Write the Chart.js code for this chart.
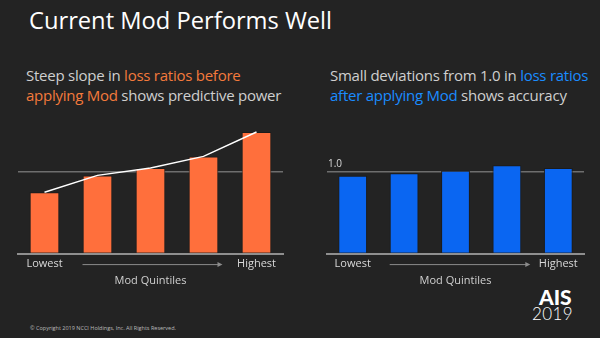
<!DOCTYPE html>
<html>
<head>
<meta charset="utf-8">
<script src="https://cdn.jsdelivr.net/npm/chart.js@4"></script>
<style>
  html, body { margin: 0; padding: 0; }
  body { width: 600px; height: 338px; background: #232323; overflow: hidden; position: relative; font-family: "Open Sans", sans-serif; }
  .txt { position: absolute; white-space: nowrap; color: #cfcfcf; }
  #title { left: 29px; top: 4px; font-size: 23.7px; color: #ffffff; }
  .sub { font-size: 15px; line-height: 20px; letter-spacing: -0.25px; }
  #subL { left: 26px; top: 65px; }
  #subR { left: 330px; top: 65px; }
  .orange { color: #f47a3c; }
  .blue { color: #1a8cff; }
  #copy { left: 30px; top: 324px; font-size: 5.5px; color: #bbbbbb; }
  #ais { left: 539px; top: 286px; font-family: Lato, sans-serif; font-weight: 900; font-size: 21px; color: #fff; line-height: 22px; }
  #yr { left: 532px; top: 305px; font-family: Lato, sans-serif; font-weight: 300; font-size: 17px; color: #fff; line-height: 18px; letter-spacing: 0.4px; }
  .box { position: absolute; top: 110px; width: 300px; height: 180px; }
</style>
</head>
<body>
<div class="txt" id="title">Current Mod Performs Well</div>
<div class="txt sub" id="subL">Steep slope in <span class="orange">loss ratios before</span><br><span class="orange">applying Mod</span> shows predictive power</div>
<div class="txt sub" id="subR">Small deviations from 1.0 in <span class="blue">loss ratios</span><br><span class="blue">after applying Mod</span> shows accuracy</div>
<div class="txt" id="copy">© Copyright 2019 NCCI Holdings, Inc. All Rights Reserved.</div>
<div class="txt" id="ais">AIS</div>
<div class="txt" id="yr">2019</div>

<div class="box" style="left:0px"><canvas id="left"></canvas></div>
<div class="box" style="left:300px"><canvas id="right"></canvas></div>

<script>
// quintiles, lowest to highest
const quintiles = ['Q1', 'Q2', 'Q3', 'Q4', 'Q5'];
const tickLabels = ['Lowest', '', '', '', 'Highest'];
const axisTitle = 'Mod Quintiles';

// loss ratios relative to average
const beforeMod = [0.745, 0.951, 1.041, 1.182, 1.479];
const beforeTrend = [0.745, 0.951, 1.041, 1.182, 1.479];
const afterMod = [0.948, 0.976, 1.008, 1.073, 1.041];

// arrow under the x axis, from "Lowest" towards "Highest"
const arrowPlugin = {
  id: 'arrow',
  afterDraw(chart, args, opts) {
    const ctx = chart.ctx;
    const x = chart.scales.x;
    const x1 = x.getPixelForValue(0) + opts.startOff;
    const x2 = x.getPixelForValue(4) - opts.endOff;
    const y = chart.chartArea.bottom + 11;
    ctx.save();
    ctx.strokeStyle = '#8c8c8c';
    ctx.fillStyle = '#8c8c8c';
    ctx.lineWidth = 1;
    ctx.beginPath();
    ctx.moveTo(x1, y);
    ctx.lineTo(x2 - 4, y);
    ctx.stroke();
    ctx.beginPath();
    ctx.moveTo(x2, y);
    ctx.lineTo(x2 - 5, y - 2.5);
    ctx.lineTo(x2 - 5, y + 2.5);
    ctx.closePath();
    ctx.fill();
    ctx.restore();
  }
};

Chart.defaults.font.family = '"Open Sans", sans-serif';
Chart.defaults.animation = false;

function makeOptions(padL, padR, showOne, arrowOff) {
  return {
    responsive: true,
    maintainAspectRatio: false,
    layout: { padding: { left: padL, right: padR, top: 12, bottom: 3 } },
    plugins: {
      legend: { display: false },
      tooltip: { enabled: false },
      arrow: arrowOff
    },
    scales: {
      x: {
        grid: { display: false, drawTicks: false },
        border: { display: true, color: '#8f8f8f', width: 2 },
        ticks: { color: '#d9d9d9', font: { size: 11 }, padding: 4, maxRotation: 0, autoSkip: false,
          callback: (v, i) => tickLabels[i] },
        title: { display: true, text: axisTitle, color: '#d0d0d0', font: { size: 11 }, padding: { top: -1, bottom: 0 } }
      },
      y: {
        min: 0, max: 1.6,
        grid: { drawTicks: false, lineWidth: 1.5,
          color: c => c.tick && c.tick.value === 1 ? '#6e6e6e' : 'rgba(0,0,0,0)' },
        border: { display: false },
        ticks: { stepSize: 0.5, display: showOne, mirror: true, padding: 1, labelOffset: -7,
          color: '#d9d9d9', font: { size: 10 },
          callback: v => v === 1 ? '1.0' : '' }
      }
    }
  };
}

new Chart(document.getElementById('left'), {
  data: {
    labels: quintiles,
    datasets: [
      { type: 'line', data: beforeTrend, borderColor: '#ffffff', borderWidth: 1.5, pointRadius: 0, tension: 0, order: 0 },
      { type: 'bar', data: beforeMod, backgroundColor: '#ff6f3c', borderColor: '#1b1b1b', borderWidth: 1,
        categoryPercentage: 1, barPercentage: 0.56, order: 1 }
    ]
  },
  options: makeOptions(18, 17, false, { startOff: 38, endOff: 34 }),
  plugins: [arrowPlugin]
});

new Chart(document.getElementById('right'), {
  data: {
    labels: quintiles,
    datasets: [
      { type: 'bar', data: afterMod, backgroundColor: '#0a66f2', borderColor: '#1b1b1b', borderWidth: 1,
        categoryPercentage: 1, barPercentage: 0.56 }
    ]
  },
  options: makeOptions(25, 16, true, { startOff: 37, endOff: 28 }),
  plugins: [arrowPlugin]
});
</script>
</body>
</html>
